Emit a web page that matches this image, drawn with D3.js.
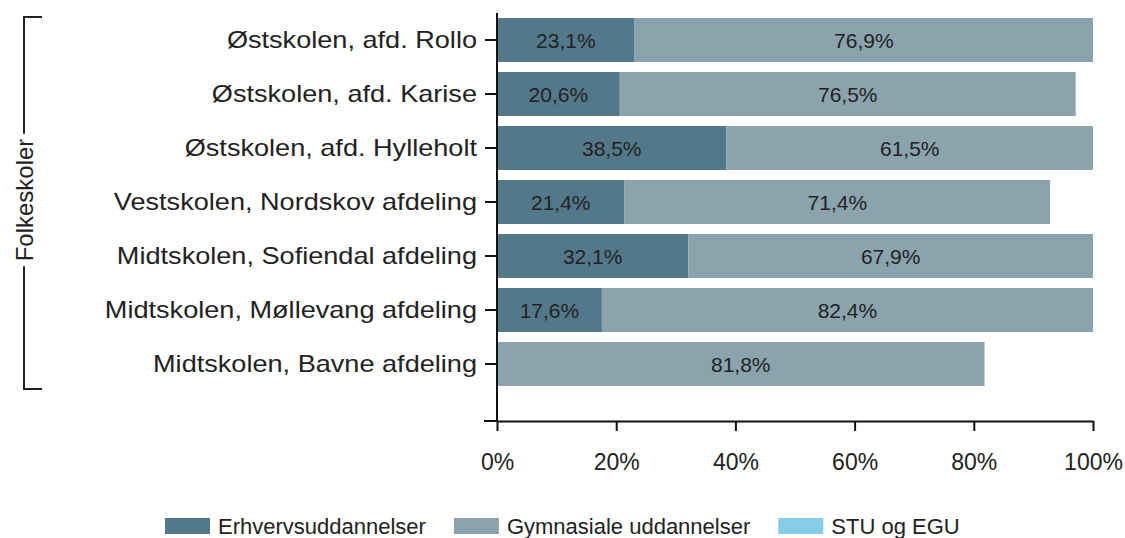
<!DOCTYPE html>
<html>
<head>
<meta charset="utf-8">
<script src="https://cdn.jsdelivr.net/npm/d3@7"></script>
<style>
    body { margin: 0; background: #fff; }
    text { font-family: "Liberation Sans", Arial, sans-serif; fill: #222; }
</style>
</head>
<body>
<div class="canvas"></div>
<script>
const schools = [
    'Østskolen, afd. Rollo',
    'Østskolen, afd. Karise',
    'Østskolen, afd. Hylleholt',
    'Vestskolen, Nordskov afdeling',
    'Midtskolen, Sofiendal afdeling',
    'Midtskolen, Møllevang afdeling',
    'Midtskolen, Bavne afdeling'
];
const erhverv = [23.1, 20.6, 38.5, 21.4, 32.1, 17.6, 0];
const gymnasial = [76.9, 76.5, 61.5, 71.4, 67.9, 82.4, 81.8];
const stuEgu = [0, 0, 0, 0, 0, 0, 0];
const seriesNames = ['Erhvervsuddannelser', 'Gymnasiale uddannelser', 'STU og EGU'];
const xTicks = [0, 20, 40, 60, 80, 100];
const groupLabel = 'Folkeskoler';

const colors = ['#537889', '#8aa3ad', '#87cde9'];

const width = 1125;
const height = 538;

const svg = d3.select('.canvas')
    .append('svg')
    .attr('width', width)
    .attr('height', height);

// plot area
const plotLeft = 497, plotRight = 1093, plotTop = 13, plotBottom = 421;

const x = d3.scaleLinear()
    .domain([0, 100])
    .range([plotLeft, plotRight]);

const y = d3.scaleBand()
    .domain(schools)
    .range([plotTop, plotTop + 54 * schools.length])
    .paddingInner(0.185)
    .paddingOuter(0.0925);

// stack the series
const rows = schools.map((s, i) => ({
    school: s,
    [seriesNames[0]]: erhverv[i],
    [seriesNames[1]]: gymnasial[i],
    [seriesNames[2]]: stuEgu[i]
}));
const stacked = d3.stack().keys(seriesNames)(rows);

const layers = svg.append('g')
    .selectAll('g')
    .data(stacked)
    .enter()
    .append('g')
    .attr('fill', (d, i) => colors[i]);

layers.selectAll('rect')
    .data(d => d)
    .enter()
    .append('rect')
    .attr('x', d => x(d[0]))
    .attr('y', d => y(d.data.school))
    .attr('width', d => x(d[1]) - x(d[0]))
    .attr('height', y.bandwidth());

// value labels
layers.selectAll('text')
    .data(d => d.filter(v => v[1] - v[0] > 0))
    .enter()
    .append('text')
    .attr('x', d => (x(d[0]) + x(d[1])) / 2)
    .attr('y', d => y(d.data.school) + y.bandwidth() / 2)
    .attr('dy', '0.36em')
    .attr('text-anchor', 'middle')
    .attr('font-size', '21px')
    .text(d => d3.format('.1f')(d[1] - d[0]).replace('.', ',') + '%');

// y axis
const yAxisGroup = svg.append('g')
    .attr('transform', `translate(${plotLeft}, 0)`);
yAxisGroup.call(d3.axisLeft(y).tickSize(12).tickSizeOuter(0));
yAxisGroup.select('.domain').remove();
yAxisGroup.append('line')
    .attr('y1', plotTop)
    .attr('y2', plotBottom)
    .attr('stroke', '#111')
    .attr('stroke-width', 2);
yAxisGroup.selectAll('.tick line')
    .attr('stroke', '#111')
    .attr('stroke-width', 2);
yAxisGroup.selectAll('.tick text')
    .attr('x', null)
    .attr('transform', 'translate(-20,0) scale(1.13,1)')
    .attr('font-size', '24px')
    .attr('fill', '#222')
    .style('font-family', '"Liberation Sans", Arial, sans-serif');

// x axis
const xAxisGroup = svg.append('g')
    .attr('transform', `translate(0, ${plotBottom})`);
xAxisGroup.call(d3.axisBottom(x)
    .tickValues(xTicks)
    .tickSize(10)
    .tickSizeOuter(0)
    .tickPadding(23)
    .tickFormat(d => d + '%'));
xAxisGroup.append('line')
    .attr('x1', plotLeft - 13)
    .attr('x2', plotLeft)
    .attr('stroke', '#111')
    .attr('stroke-width', 2);
xAxisGroup.select('.domain')
    .attr('stroke', '#111')
    .attr('stroke-width', 2);
xAxisGroup.selectAll('.tick line')
    .attr('stroke', '#111')
    .attr('stroke-width', 2);
xAxisGroup.selectAll('.tick text')
    .attr('font-size', '23px')
    .attr('fill', '#222')
    .style('font-family', '"Liberation Sans", Arial, sans-serif');

// group bracket
const bx = 24, bTop = 17, bBottom = 389, bMid = 200;
const groupText = svg.append('text')
    .attr('transform', `translate(33, ${bMid}) rotate(-90)`)
    .attr('text-anchor', 'middle')
    .attr('font-size', '24px')
    .text(groupLabel);
const half = groupText.node().getComputedTextLength() / 2 + 5;

const bracket = svg.append('g')
    .attr('stroke', '#222')
    .attr('stroke-width', 2)
    .attr('fill', 'none');
bracket.append('path')
    .attr('d', `M${bx + 18},${bTop}H${bx}V${bMid - half}`);
bracket.append('path')
    .attr('d', `M${bx},${bMid + half}V${bBottom}H${bx + 18}`);

// legend
const legend = svg.append('g')
    .attr('transform', 'translate(165, 518)');
let lx = 0;
seriesNames.forEach((name, i) => {
    const item = legend.append('g')
        .attr('transform', `translate(${lx}, 0)`);
    item.append('rect')
        .attr('width', 45)
        .attr('height', 16)
        .attr('fill', colors[i]);
    const t = item.append('text')
        .attr('x', 53)
        .attr('y', 16)
        .attr('font-size', '22px')
        .text(name);
    lx += 53 + t.node().getComputedTextLength() + 28;
});
</script>
</body>
</html>
